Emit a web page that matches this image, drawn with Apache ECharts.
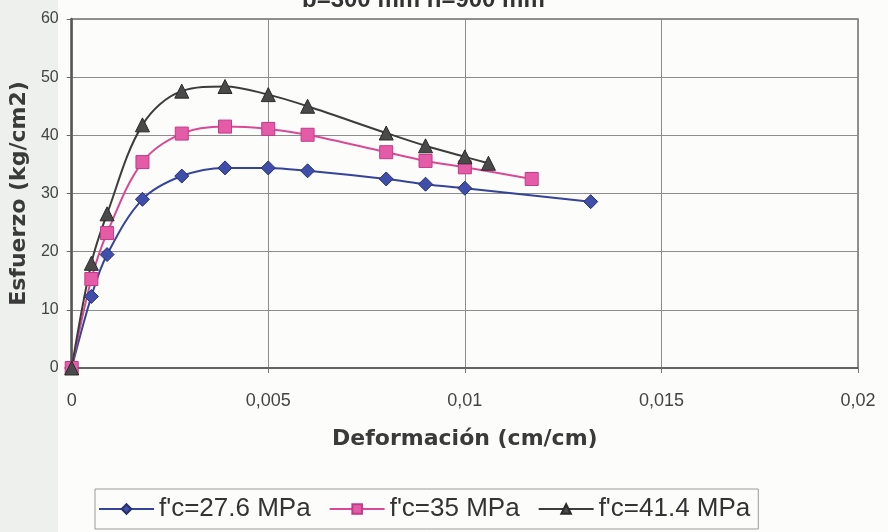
<!DOCTYPE html>
<html>
<head>
<meta charset="utf-8">
<script src="https://cdn.jsdelivr.net/npm/echarts@6/dist/echarts.min.js"></script>
<style>
html,body{margin:0;padding:0;background:#fcfcfb;}
#chart{width:888px;height:532px;}
</style>
</head>
<body>
<div id="chart"></div>
<script>
var titleText = 'b=300 mm h=900 mm';
var xAxisName = 'Deformación (cm/cm)';
var yAxisName = 'Esfuerzo (kg/cm2)';
var seriesNames = ["f'c=27.6 MPa", "f'c=35 MPa", "f'c=41.4 MPa"];

var strainA = [0, 0.0005, 0.0009, 0.0018, 0.0028, 0.0039, 0.005, 0.006, 0.008, 0.009, 0.010, 0.0132];
var stressA = [0, 12.3, 19.5, 29.0, 33.0, 34.4, 34.4, 33.9, 32.5, 31.6, 30.9, 28.6];

var strainB = [0, 0.0005, 0.0009, 0.0018, 0.0028, 0.0039, 0.005, 0.006, 0.008, 0.009, 0.010, 0.0117];
var stressB = [0, 15.3, 23.2, 35.4, 40.3, 41.5, 41.1, 40.1, 37.1, 35.6, 34.5, 32.5];

var strainC = [0, 0.0005, 0.0009, 0.0018, 0.0028, 0.0039, 0.005, 0.006, 0.008, 0.009, 0.010, 0.0106];
var stressC = [0, 18.0, 26.5, 41.8, 47.6, 48.4, 47.0, 45.0, 40.4, 38.2, 36.3, 35.2];

function pairs(xs, ys){ return xs.map(function(x,i){ return [x, ys[i]]; }); }

var chart = echarts.init(document.getElementById('chart'), null, {renderer:'canvas'});
var font = 'Liberation Sans, Arial, sans-serif';
var wide = 'DejaVu Sans, sans-serif';
chart.setOption({
  backgroundColor: '#fcfcfb',
  animation: false,
  title: {
    text: titleText, left: 297, top: -17,
    textStyle: {fontFamily: font, fontSize: 24, fontWeight: 'bold', color: '#333'}
  },
  graphic: [{type:'rect', shape:{x:0,y:0,width:58,height:532}, style:{fill:'#eef0ed'}, z:-10, silent:true}],
  grid: {left: 66, right: 30, top: 19, bottom: 164, show: true, borderColor: '#6e6e6e', borderWidth: 1.5, backgroundColor: 'transparent'},
  xAxis: {
    type: 'value', min: 0, max: 0.02, interval: 0.005,
    name: xAxisName, nameLocation: 'middle', nameGap: 60,
    nameTextStyle: {fontFamily: wide, fontSize: 22, fontWeight: 'bold', color: '#3a3a3a'},
    axisLine: {lineStyle: {color: '#555', width: 1.5}},
    axisTick: {show: true, length: 5, lineStyle: {color: '#777'}},
    splitLine: {show: true, lineStyle: {color: '#8c8c8c', width: 1}},
    axisLabel: {margin: 24, fontFamily: font, fontSize: 18, color: '#444',
      formatter: function(v){ return String(v).replace('.', ','); }}
  },
  yAxis: {
    type: 'value', min: 0, max: 60, interval: 10,
    name: yAxisName, nameLocation: 'middle', nameGap: 41, nameRotate: 90,
    nameTextStyle: {fontFamily: wide, fontSize: 22, fontWeight: 'bold', color: '#3a3a3a'},
    axisLine: {show: true, lineStyle: {color: '#555', width: 2.5}},
    axisTick: {show: true, length: 5, lineStyle: {color: '#666'}},
    splitLine: {show: true, lineStyle: {color: '#8c8c8c', width: 1}},
    axisLabel: {margin: 13, fontFamily: font, fontSize: 16, color: '#444'}
  },
  legend: {
    left: 95, top: 489, orient: 'horizontal',
    borderColor: '#9a9a9a', borderWidth: 1, padding: [7, 8, 7, 3],
    itemWidth: 55, itemHeight: 12, itemGap: 18,
    textStyle: {fontFamily: font, fontSize: 26, color: '#333'},
    data: seriesNames
  },
  series: [
    {name: seriesNames[0], type: 'line', smooth: 0.35, data: pairs(strainA, stressA),
     symbol: 'diamond', symbolSize: 14,
     lineStyle: {color: '#34449a', width: 2},
     itemStyle: {color: '#3e4eaa', borderColor: '#26306e', borderWidth: 1}},
    {name: seriesNames[1], type: 'line', smooth: 0.35, data: pairs(strainB, stressB),
     symbol: 'rect', symbolSize: 13,
     lineStyle: {color: '#d94a96', width: 2},
     itemStyle: {color: '#e45ca8', borderColor: '#c43987', borderWidth: 1}},
    {name: seriesNames[2], type: 'line', smooth: 0.35, data: pairs(strainC, stressC),
     symbol: 'triangle', symbolSize: 14,
     lineStyle: {color: '#3c3c3c', width: 2},
     itemStyle: {color: '#4a4a4a', borderColor: '#2a2a2a', borderWidth: 1}}
  ]
});
</script>
</body>
</html>
